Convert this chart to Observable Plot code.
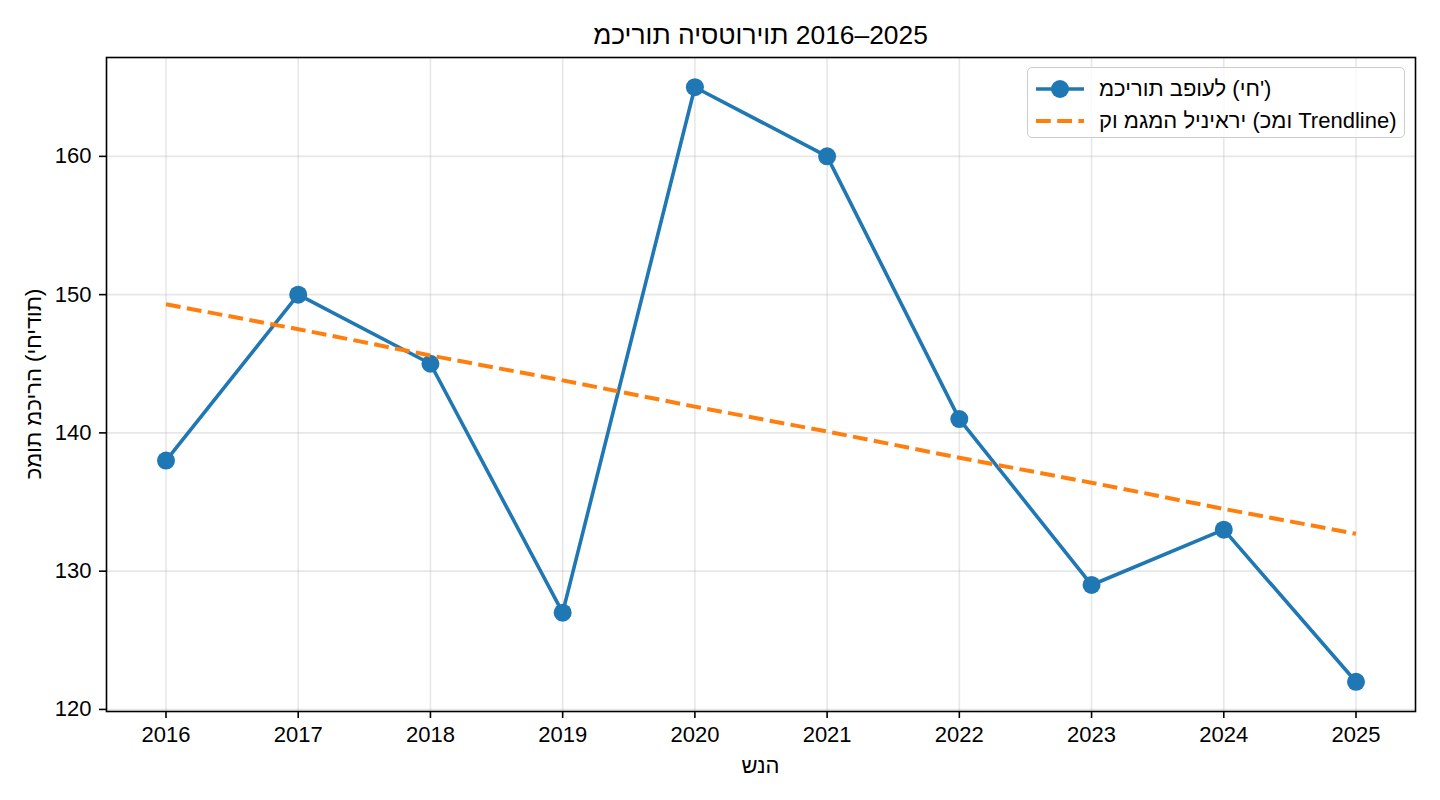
<!DOCTYPE html>
<html>
<head>
<meta charset="utf-8">
<script src="https://cdn.jsdelivr.net/npm/d3@7"></script>
<script src="https://cdn.jsdelivr.net/npm/@observablehq/plot@0.6"></script>
<style>
  html, body { margin: 0; padding: 0; background: #fff; }
  #wrap { position: relative; width: 1440px; height: 800px; font-family: "Liberation Sans", Arial, sans-serif; }
  .ltr { unicode-bidi: bidi-override; direction: ltr; }
  #legend { position: absolute; left: 1027px; top: 67px; width: 378px; height: 71px;
    border: 1.6px solid #cccccc; border-radius: 5px; background: rgba(255,255,255,0.8); box-sizing: border-box; }
  .row { position: absolute; left: 0; height: 26px; white-space: nowrap; }
  .row svg { position: absolute; left: 7px; top: 1px; }
  .row span { position: absolute; left: 71px; top: 0; font-size: 22px; line-height: 26px; color: #000; }
</style>
</head>
<body>
<div id="wrap"></div>
<script>
const years = [2016, 2017, 2018, 2019, 2020, 2021, 2022, 2023, 2024, 2025];
const sales = [138, 150, 145, 127, 165, 160, 141, 129, 133, 122];
const trend = [149.3, 147.5, 145.6, 143.8, 141.9, 140.1, 138.2, 136.4, 134.5, 132.7];
const yTicks = [120, 130, 140, 150, 160];

const titleText = "מכירות היסטוריות 2016–2025";
const xLabelText = "שנה";
const yLabelText = "כמות מכירה (יחידות)";
const seriesLabel = "מכירות בפועל (יח')";
const trendLabel = "קו מגמה ליניארי (כמו Trendline)";

const blue = "#1f77b4", orange = "#ff7f0e";

const salesData = years.map((y, i) => ({year: y, value: sales[i]}));
const trendData = years.map((y, i) => ({year: y, value: trend[i]}));

const W = 1440, H = 800, mL = 106, mR = 25, mT = 57, mB = 89;

const chart = Plot.plot({
  width: W, height: H,
  marginLeft: mL, marginRight: mR, marginTop: mT, marginBottom: mB,
  style: {fontFamily: '"Liberation Sans", Arial, sans-serif', fontSize: "22px", color: "#000", background: "#fff", overflow: "visible"},
  x: {domain: [2015.55, 2025.45], label: null},
  y: {domain: [119.85, 167.15], label: null},
  marks: [
    Plot.gridX(years, {stroke: "#b0b0b0", strokeOpacity: 0.3, strokeWidth: 1.6}),
    Plot.gridY(yTicks, {stroke: "#b0b0b0", strokeOpacity: 0.3, strokeWidth: 1.6}),
    Plot.axisX(years, {tickSize: 7, tickPadding: 8, tickFormat: d => `${d}`, strokeWidth: 1.6, fontSize: 22, label: null}),
    Plot.axisY(yTicks, {tickSize: 7, tickPadding: 8, tickFormat: d => `${d}`, strokeWidth: 1.6, fontSize: 22, label: null}),
    Plot.line(salesData, {x: "year", y: "value", stroke: blue, strokeWidth: 3.6}),
    Plot.dot(salesData, {x: "year", y: "value", r: 9, fill: blue, stroke: "none"}),
    Plot.line(trendData, {x: "year", y: "value", stroke: orange, strokeWidth: 4, strokeDasharray: "14.8,6.4", strokeLinecap: "butt"}),
    Plot.frame({stroke: "#000", strokeWidth: 1.6, fill: "none"})
  ]
});

const wrap = document.getElementById("wrap");
wrap.appendChild(chart);

const svg = d3.select(chart);
svg.append("text")
  .attr("x", (mL + W - mR) / 2).attr("y", 44)
  .attr("text-anchor", "middle")
  .attr("fill", "#000")
  .style("font-size", "26.4px")
  .style("unicode-bidi", "bidi-override").style("direction", "ltr")
  .text(titleText);
svg.append("text")
  .attr("x", (mL + W - mR) / 2).attr("y", 773)
  .attr("text-anchor", "middle")
  .attr("fill", "#000")
  .style("font-size", "22px")
  .style("unicode-bidi", "bidi-override").style("direction", "ltr")
  .text(xLabelText);
svg.append("text")
  .attr("transform", `translate(41,${(mT + H - mB) / 2}) rotate(-90)`)
  .attr("text-anchor", "middle")
  .attr("fill", "#000")
  .style("font-size", "22px")
  .style("unicode-bidi", "bidi-override").style("direction", "ltr")
  .text(yLabelText);

// legend
const legend = document.createElement("div");
legend.id = "legend";
legend.innerHTML = `
  <div class="row" style="top:8px;width:100%">
    <svg width="50" height="24"><line x1="1" y1="12" x2="49" y2="12" stroke="${blue}" stroke-width="3.6"/><circle cx="25" cy="12" r="9" fill="${blue}"/></svg>
    <span class="ltr"></span>
  </div>
  <div class="row" style="top:40px;width:100%">
    <svg width="50" height="24"><line x1="1" y1="12" x2="49" y2="12" stroke="${orange}" stroke-width="4" stroke-dasharray="14.8,6.4"/></svg>
    <span class="ltr"></span>
  </div>`;
wrap.appendChild(legend);
const spans = legend.querySelectorAll("span");
spans[0].textContent = seriesLabel;
spans[1].textContent = trendLabel;
</script>
</body>
</html>
